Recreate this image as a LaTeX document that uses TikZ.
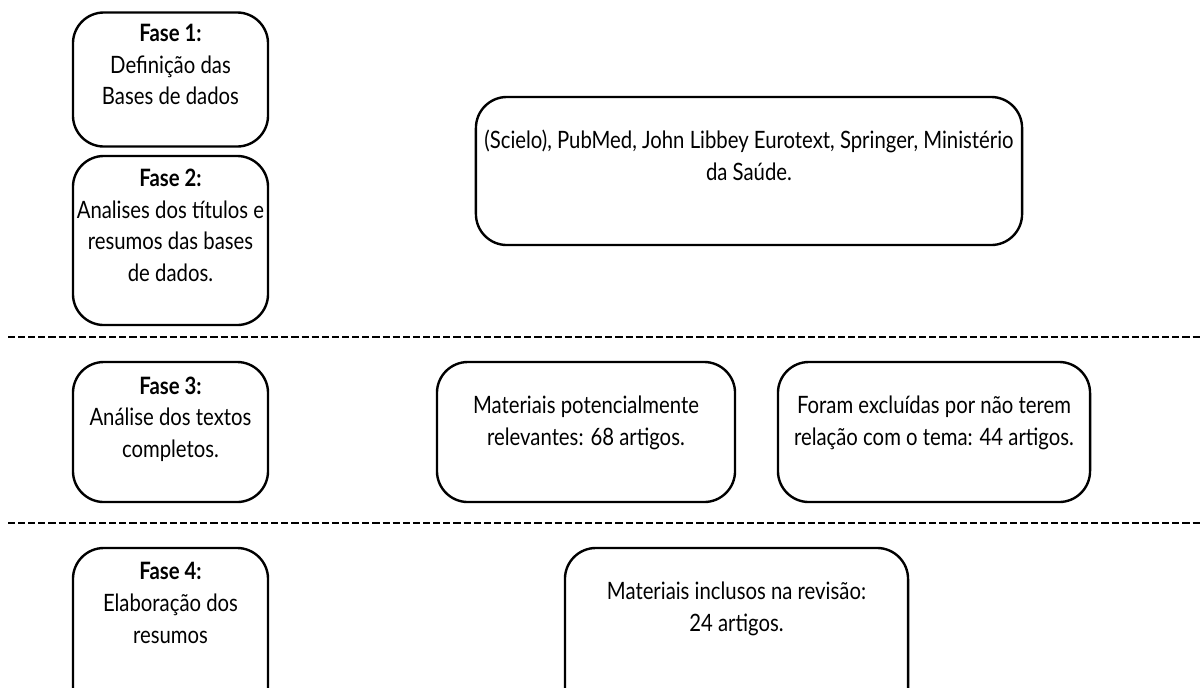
\documentclass[tikz,border=0pt]{standalone}
\usepackage{fontspec}
\setmainfont[FakeStretch=0.85]{Lato}
\usetikzlibrary{positioning}

\tikzset{
  caixa/.style n args={2}{draw, line width=1.7pt, rounded corners=22pt,
    minimum width=#1, minimum height=#2},
  texto/.style={align=center, inner sep=0pt,
    font=\fontsize{17}{22.5}\selectfont},
  separador/.style={line width=1.7pt, dash pattern=on 5pt off 2.2pt}
}

\begin{document}
\begin{tikzpicture}[x=0.025cm, y=-0.025cm]

% Parametry (1 jednostka = 1 px obrazka)
\def\lx{170.5}
\clip (0,0) rectangle (1200,687);
\useasboundingbox (0,0) rectangle (1200,687);

% ---------- Etap 1 i 2: bazy danych ----------
\node[caixa={4.875cm}{3.35cm}] (f1) at (\lx,79.5) {};
\node[texto, below=9pt of f1.north] (t1) {\textbf{Fase 1:}\\Definição das\\Bases de dados};

\node[caixa={4.875cm}{4.225cm}] (f2) at (\lx,240.5) {};
\node[texto, below=10pt of f2.north] (t2) {\textbf{Fase 2:}\\Analises dos títulos e\\resumos das bases\\de dados.};

\node[caixa={13.65cm}{3.7cm}] (bases) at (749,171) {};
\node[texto, below=24pt of bases.north] (tb) {(Scielo), PubMed, John Libbey Eurotext, Springer, Ministério\\da Saúde.};

\draw[separador] (8,337) -- (1200,337);

% ---------- Etap 3: pelne teksty ----------
\node[caixa={4.875cm}{3.5cm}] (f3) at (\lx,432) {};
\node[texto, below=11pt of f3.north] (t3) {\textbf{Fase 3:}\\Análise dos textos\\completos.};

\node[caixa={7.45cm}{3.5cm}] (mat) at (586,432) {};
\node[texto, below=25pt of mat.north] (tm) {Materiais potencialmente\\relevantes: 68 artigos.};

\node[caixa={7.8cm}{3.5cm}] (excl) at (934,432) {};
\node[texto, below=25pt of excl.north] (te) {Foram excluídas por não terem\\relação com o tema: 44 artigos.};

\draw[separador] (8,523) -- (1200,523);

% ---------- Etap 4: streszczenia ----------
\node[caixa={4.875cm}{4.3cm}] (f4) at (\lx,634) {};
\node[texto, below=11pt of f4.north] (t4) {\textbf{Fase 4:}\\Elaboração dos\\resumos};

\node[caixa={8.575cm}{4.3cm}] (incl) at (736.5,634) {};
\node[texto, below=25pt of incl.north] (ti) {Materiais inclusos na revisão:\\24 artigos.};

\end{tikzpicture}
\end{document}
